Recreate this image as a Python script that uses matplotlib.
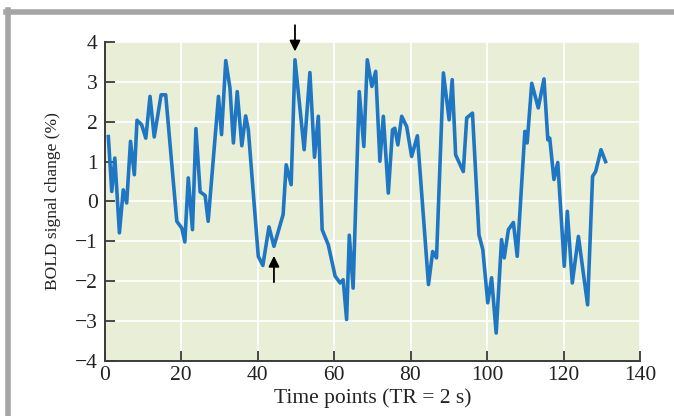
import matplotlib
matplotlib.use("Agg")
import matplotlib.pyplot as plt
from matplotlib.lines import Line2D

# BOLD time course (time point index, % signal change)
time_points = [1.0, 1.9, 2.7, 3.9, 4.9, 5.8, 6.8, 7.8, 8.5, 9.7, 10.8, 11.9, 13.0,
               14.8, 16.0, 18.9, 20.2, 21.0, 21.9, 23.0, 23.9, 25.0, 26.3, 27.1,
               29.8, 30.6, 31.7, 32.8, 33.7, 34.7, 35.9, 36.9, 37.6, 40.2, 41.4,
               43.0, 44.3, 46.7, 47.5, 48.8, 49.8, 52.2, 53.7, 54.9, 55.9, 56.9,
               58.5, 60.3, 61.6, 62.4, 63.3, 64.0, 65.0, 66.6, 67.8, 68.7, 69.9,
               70.9, 72.0, 72.9, 74.2, 75.3, 75.9, 76.7, 77.7, 79.0, 80.3, 81.8,
               84.7, 85.8, 86.8, 88.6, 90.1, 90.9, 91.8, 93.8, 94.7, 96.2, 97.9,
               98.9, 100.2, 101.2, 102.4, 103.8, 104.5, 105.6, 106.9, 107.9, 109.9,
               110.5, 111.7, 113.4, 114.9, 115.9, 116.4, 117.5, 118.5, 120.2, 121.0,
               122.3, 123.9, 126.3, 127.6, 128.4, 129.8, 131.0]
bold_change = [1.63, 0.25, 1.09, -0.79, 0.29, -0.04, 1.51, 0.67, 2.04, 1.93, 1.59, 2.64,
               1.62, 2.68, 2.68, -0.50, -0.67, -1.02, 0.59, -0.71, 1.83, 0.24, 0.15,
               -0.50, 2.64, 1.68, 3.54, 2.85, 1.47, 2.76, 1.40, 2.15, 1.80, -1.38,
               -1.61, -0.64, -1.13, -0.33, 0.92, 0.42, 3.56, 1.30, 3.24, 1.11, 2.14,
               -0.71, -1.09, -1.88, -2.05, -1.97, -2.97, -0.85, -2.18, 2.76, 1.38,
               3.56, 2.89, 3.27, 1.01, 2.14, 0.21, 1.80, 1.84, 1.42, 2.14, 1.88,
               1.13, 1.65, -2.09, -1.26, -1.42, 3.23, 2.05, 3.06, 1.17, 0.75, 2.10,
               2.22, -0.84, -1.21, -2.55, -1.92, -3.31, -0.96, -1.42, -0.71, -0.53,
               -1.38, 1.76, 1.47, 2.97, 2.35, 3.08, 1.55, 1.59, 0.55, 0.98, -1.63,
               -0.25, -2.05, -0.88, -2.60, 0.63, 0.75, 1.30, 1.00]

x_ticks = [0, 20, 40, 60, 80, 100, 120, 140]
y_ticks = [-4, -3, -2, -1, 0, 1, 2, 3, 4]
x_label = "Time points (TR = 2 s)"
y_label = "BOLD signal change (%)"

serif = ["Liberation Serif", "DejaVu Serif"]
plt.rcParams["font.family"] = serif
plt.rcParams["axes.unicode_minus"] = True

fig = plt.figure(figsize=(6.74, 4.16), dpi=100)
fig.patch.set_facecolor("white")

# page frame
fig.add_artist(Line2D([6 / 674, 1.0], [1 - 12 / 416, 1 - 12 / 416],
                      transform=fig.transFigure, color="#a5a5a5", lw=4.0))
fig.add_artist(Line2D([8 / 674, 8 / 674], [0.0, 1 - 10 / 416],
                      transform=fig.transFigure, color="#a5a5a5", lw=4.0))

ax = fig.add_axes([104.5 / 674, 1 - 360.5 / 416, (640 - 104.5) / 674, (360.5 - 42.3) / 416])
ax.set_facecolor("#e9efd6")

ax.plot(time_points, bold_change, color="#1f77c4", lw=2.6, solid_joinstyle="round",
        zorder=3)

ax.set_xlim(0, 140)
ax.set_ylim(-4, 4)
ax.set_xticks(x_ticks)
ax.set_yticks(y_ticks)
ax.set_yticklabels([str(v).replace("-", "\u2212") for v in y_ticks])

ax.grid(True, color="white", lw=1.3, zorder=0)
ax.set_axisbelow(True)

for side in ("top", "right"):
    ax.spines[side].set_visible(False)
for side in ("left", "bottom"):
    ax.spines[side].set_color("#3a3a3a")
    ax.spines[side].set_linewidth(1.4)

ax.tick_params(axis="both", direction="in", length=7, width=1.3, color="#3a3a3a",
               labelsize=15.5, labelcolor="#222222")
ax.tick_params(axis="x", pad=4)
ax.tick_params(axis="y", pad=5)

ax.set_xlabel(x_label, fontsize=15.5, color="#222222", labelpad=2)
ax.set_ylabel(y_label, fontsize=12.5, color="#222222", labelpad=10)

# arrows marking a peak and a trough
arrow_style = dict(arrowstyle="-|>", color="black", lw=1.3, mutation_scale=16)
ax.annotate("", xy=(49.8, 3.7), xytext=(49.8, 4.5), arrowprops=arrow_style,
            annotation_clip=False)
ax.annotate("", xy=(44.3, -1.3), xytext=(44.3, -2.1), arrowprops=arrow_style,
            annotation_clip=False)

fig.savefig("out.png", dpi=100)
